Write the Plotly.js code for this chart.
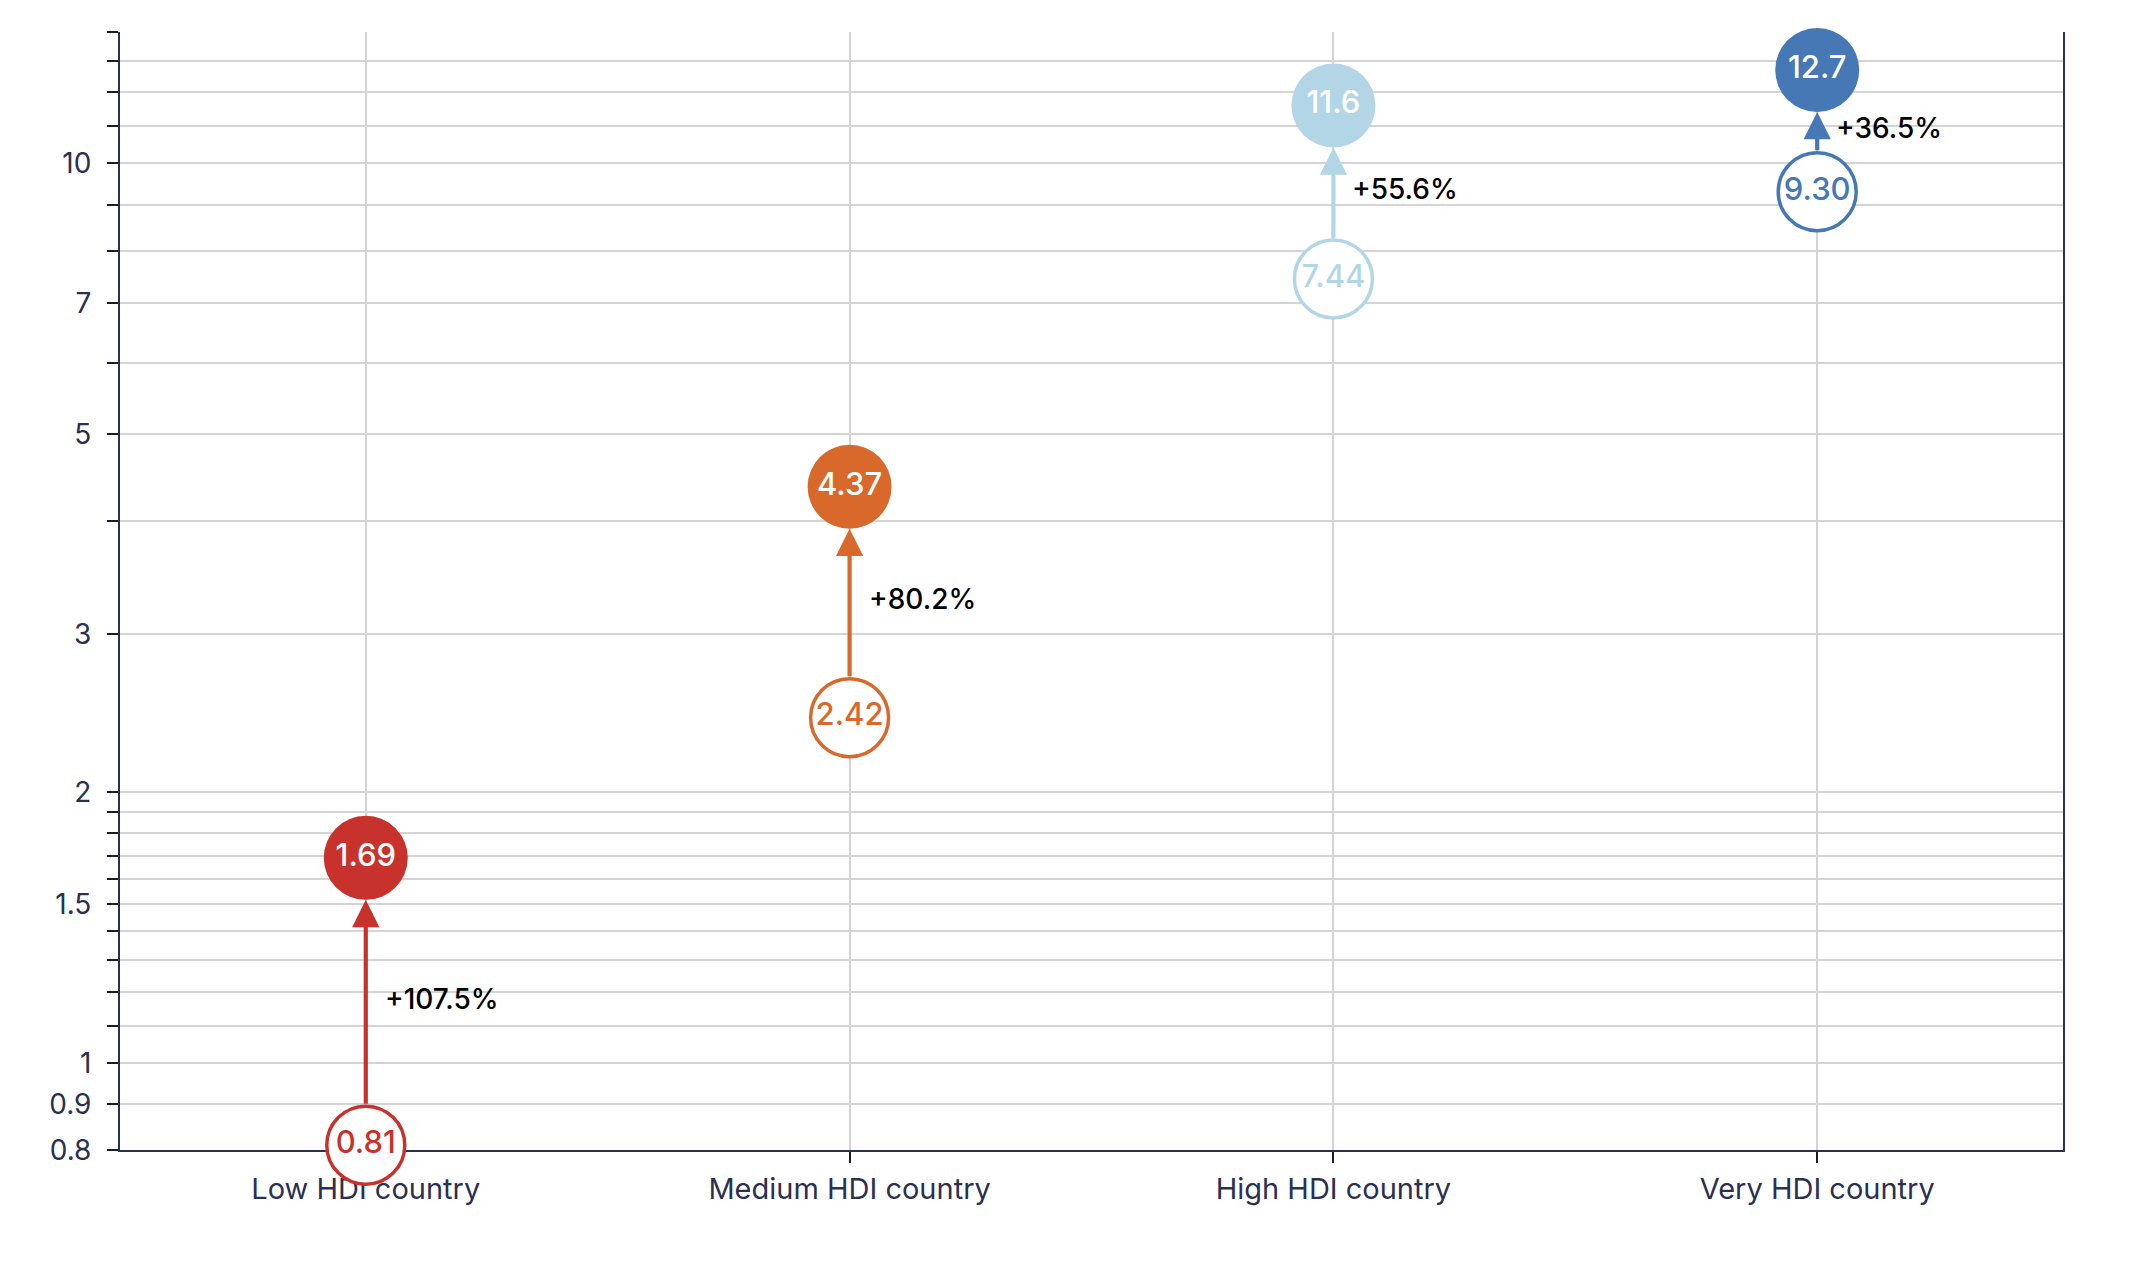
<!DOCTYPE html>
<html>
<head>
<meta charset="utf-8">
<script src="https://cdn.plot.ly/plotly-3.0.1.min.js"></script>
<style>html,body{margin:0;padding:0;background:#fff;}#chart{width:2153px;height:1274px;}</style>
</head>
<body>
<div id="chart"></div>
<script>
// ---- data ----
var categories = ["Low HDI country", "Medium HDI country", "High HDI country", "Very HDI country"];
var startValues = [0.81, 2.42, 7.44, 9.30];
var endValues = [1.69, 4.37, 11.6, 12.7];
var changeLabels = ["+107.5%", "+80.2%", "+55.6%", "+36.5%"];
var seriesColors = ["#c8322c", "#d9692a", "#b3d6e7", "#4578b4"];
var gridValues = [0.8, 0.9, 1, 1.1, 1.2, 1.3, 1.4, 1.5, 1.6, 1.7, 1.8, 1.9, 2, 3, 4, 5, 6, 7, 8, 9, 10, 11, 12, 13, 14];
var labeledTicks = [0.8, 0.9, 1, 1.5, 2, 3, 5, 7, 10];

var FONT = "Inter, 'Open Sans', sans-serif";
var AXIS_COLOR = "#2b3050";
var GRID_COLOR = "#d4d4d4";

function fmt(v) { return v < 1 ? v.toFixed(2) : v.toPrecision(3); }

var idx = categories.map(function (c, i) { return i; });

var startTrace = {
  type: "scatter",
  mode: "markers+text",
  x: idx,
  y: startValues,
  text: startValues.map(fmt),
  textposition: "middle center",
  textfont: { family: FONT, size: 31, color: seriesColors, weight: 500 },
  marker: { size: 78, color: "#ffffff", line: { color: seriesColors, width: 3.5 } },
  cliponaxis: false,
  hoverinfo: "skip",
  showlegend: false
};

var endTrace = {
  type: "scatter",
  mode: "markers+text",
  x: idx,
  y: endValues,
  text: endValues.map(fmt),
  textposition: "middle center",
  textfont: { family: FONT, size: 31, color: "#ffffff", weight: 500 },
  marker: { size: 84, color: seriesColors, line: { width: 0 } },
  cliponaxis: false,
  hoverinfo: "skip",
  showlegend: false
};

var annotations = [];
idx.forEach(function (i) {
  annotations.push({
    x: i, y: Math.log10(endValues[i]),
    ax: i, ay: Math.log10(startValues[i]),
    xref: "x", yref: "y", axref: "x", ayref: "y",
    text: "", showarrow: true,
    arrowhead: 2, arrowsize: 1.3, arrowwidth: 4.2, arrowcolor: seriesColors[i],
    standoff: 42, startstandoff: 40
  });
  annotations.push({
    x: i, y: (Math.log10(endValues[i]) + Math.log10(startValues[i])) / 2,
    xref: "x", yref: "y",
    text: changeLabels[i], showarrow: false,
    xanchor: "left", yanchor: "middle", xshift: 17, yshift: 3,
    font: { family: FONT, size: 28, color: "#000000", weight: 500 }
  });
});

var layout = {
  width: 2153, height: 1274,
  margin: { l: 120, r: 90, t: 32, b: 124 },
  paper_bgcolor: "#ffffff", plot_bgcolor: "#ffffff",
  font: { family: FONT, color: AXIS_COLOR },
  showlegend: false,
  xaxis: {
    type: "linear",
    range: [-0.508, 3.508],
    tickvals: idx,
    ticktext: categories,
    showgrid: true, gridcolor: GRID_COLOR, gridwidth: 2,
    zeroline: false,
    showline: true, linecolor: AXIS_COLOR, linewidth: 2,
    ticks: "outside", ticklen: 11, tickwidth: 2, tickcolor: "#1a1a2a",
    tickfont: { family: FONT, size: 29, color: AXIS_COLOR, weight: 400 },
    ticklabelstandoff: 1,
    layer: "below traces",
    fixedrange: true
  },
  yaxis: {
    type: "log",
    range: [Math.log10(0.8), Math.log10(14)],
    tickvals: gridValues,
    ticktext: gridValues.map(function (v) { return labeledTicks.indexOf(v) >= 0 ? String(v) : ""; }),
    showgrid: true, gridcolor: GRID_COLOR, gridwidth: 2,
    zeroline: false,
    showline: true, mirror: true, linecolor: AXIS_COLOR, linewidth: 2,
    ticks: "outside", ticklen: 11, tickwidth: 2, tickcolor: "#1a1a2a",
    tickfont: { family: FONT, size: 28, color: AXIS_COLOR, weight: 400 },
    ticklabelstandoff: 10,
    layer: "below traces",
    fixedrange: true
  },
  annotations: annotations
};

Plotly.newPlot("chart", [startTrace, endTrace], layout, { displayModeBar: false, staticPlot: true });
</script>
</body>
</html>
